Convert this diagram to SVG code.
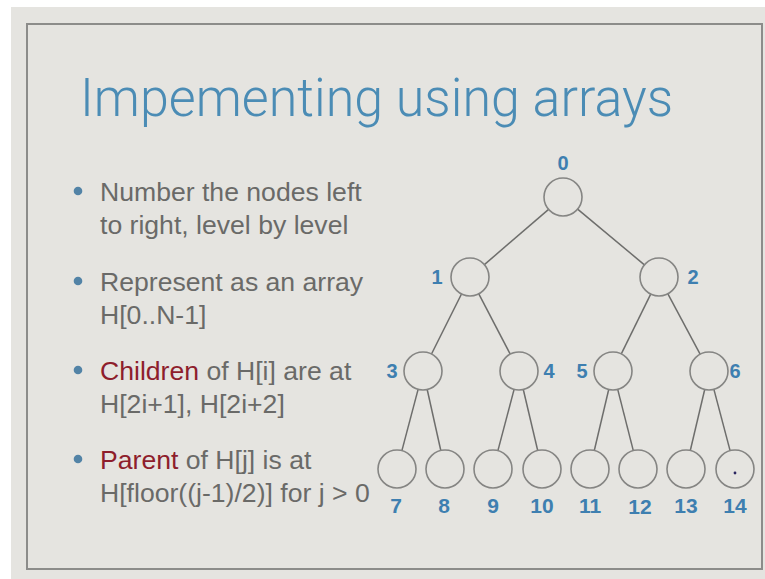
<svg xmlns="http://www.w3.org/2000/svg" width="765" height="579" viewBox="0 0 765 579">
<style>
.title{font-family:"Roboto","Liberation Sans",sans-serif;font-weight:300;font-size:54px;fill:#4b8cb5}
.body{font-family:"Liberation Sans","Noto Sans",sans-serif;font-size:26.6px;fill:#6a6a68}
.red{fill:#8e1e2c}
.bul{fill:#5283a6}
.node circle{fill:none;stroke:#858583;stroke-width:1.6}
.lbl{font-family:"Liberation Sans",sans-serif;font-weight:bold;font-size:20px;fill:#3e7fb0;text-anchor:middle}
.leaf{font-size:21px}
#edges line{stroke:#6e6e6c;stroke-width:1.5}
</style>
<rect x="0" y="0" width="765" height="579" fill="#ffffff"/>
<rect x="11" y="7" width="754" height="572" fill="#e5e4e0"/>
<rect x="27" y="24" width="735" height="545" fill="none" stroke="#8c8c8a" stroke-width="2"/>
<text class="title" x="80" y="116" textLength="593" lengthAdjust="spacingAndGlyphs">Impementing using arrays</text>
<g id="bullets">
<circle class="bul" cx="78" cy="191" r="4.3"/>
<text class="body" x="100" y="201">Number the nodes left</text>
<text class="body" x="100" y="234">to right, level by level</text>
<circle class="bul" cx="78" cy="281" r="4.3"/>
<text class="body" x="100" y="291">Represent as an array</text>
<text class="body" x="100" y="324">H[0..N-1]</text>
<circle class="bul" cx="78" cy="370" r="4.3"/>
<text class="body" x="100" y="380"><tspan class="red">Children</tspan> of H[i] are at</text>
<text class="body" x="100" y="413">H[2i+1], H[2i+2]</text>
<circle class="bul" cx="78" cy="459" r="4.3"/>
<text class="body" x="100" y="469"><tspan class="red">Parent</tspan> of H[j] is at</text>
<text class="body" x="100" y="502">H[floor((j-1)/2)] for j &gt; 0</text>
</g>
<g id="edges">
<line x1="548.6" y1="209.4" x2="484.4" y2="264.6"/>
<line x1="577.6" y1="209.2" x2="644.4" y2="264.8"/>
<line x1="461.5" y1="294" x2="431.5" y2="354"/>
<line x1="478.8" y1="293.9" x2="510.2" y2="354.1"/>
<line x1="650.7" y1="294.1" x2="621.3" y2="353.9"/>
<line x1="667.9" y1="293.8" x2="700.1" y2="354.2"/>
<line x1="418.1" y1="389.4" x2="401.9" y2="450.6"/>
<line x1="427.2" y1="389.5" x2="440.8" y2="450.5"/>
<line x1="514.1" y1="389.4" x2="497.9" y2="450.6"/>
<line x1="523.3" y1="389.5" x2="537.7" y2="450.5"/>
<line x1="608.7" y1="389.5" x2="594.3" y2="450.5"/>
<line x1="617.7" y1="389.4" x2="633.3" y2="450.6"/>
<line x1="704.7" y1="389.5" x2="690.3" y2="450.5"/>
<line x1="713.9" y1="389.4" x2="730.1" y2="450.6"/>
</g>
<g id="n0" class="node"><circle cx="563" cy="197" r="19"/><text class="lbl" x="563" y="170">0</text></g>
<g id="n1" class="node"><circle cx="470" cy="277" r="19"/><text class="lbl" x="437" y="284">1</text></g>
<g id="n2" class="node"><circle cx="659" cy="277" r="19"/><text class="lbl" x="693" y="284">2</text></g>
<g id="n3" class="node"><circle cx="423" cy="371" r="19"/><text class="lbl" x="392" y="378">3</text></g>
<g id="n4" class="node"><circle cx="519" cy="371" r="19"/><text class="lbl" x="549" y="378">4</text></g>
<g id="n5" class="node"><circle cx="613" cy="371" r="19"/><text class="lbl" x="582" y="378">5</text></g>
<g id="n6" class="node"><circle cx="709" cy="371" r="19"/><text class="lbl" x="735" y="378">6</text></g>
<g id="n7" class="node"><circle cx="397" cy="469" r="19"/><text class="lbl leaf" x="396" y="513">7</text></g>
<g id="n8" class="node"><circle cx="445" cy="469" r="19"/><text class="lbl leaf" x="444" y="513">8</text></g>
<g id="n9" class="node"><circle cx="493" cy="469" r="19"/><text class="lbl leaf" x="493" y="513">9</text></g>
<g id="n10" class="node"><circle cx="542" cy="469" r="19"/><text class="lbl leaf" x="542" y="513">10</text></g>
<g id="n11" class="node"><circle cx="590" cy="469" r="19"/><text class="lbl leaf" x="590" y="513">11</text></g>
<g id="n12" class="node"><circle cx="638" cy="469" r="19"/><text class="lbl leaf" x="640" y="514">12</text></g>
<g id="n13" class="node"><circle cx="686" cy="469" r="19"/><text class="lbl leaf" x="686" y="513">13</text></g>
<g id="n14" class="node"><circle cx="735" cy="469" r="19"/><circle cx="735" cy="473" r="1.4" style="fill:#2a2560;stroke:none"/><text class="lbl leaf" x="735" y="513">14</text></g>
</svg>
